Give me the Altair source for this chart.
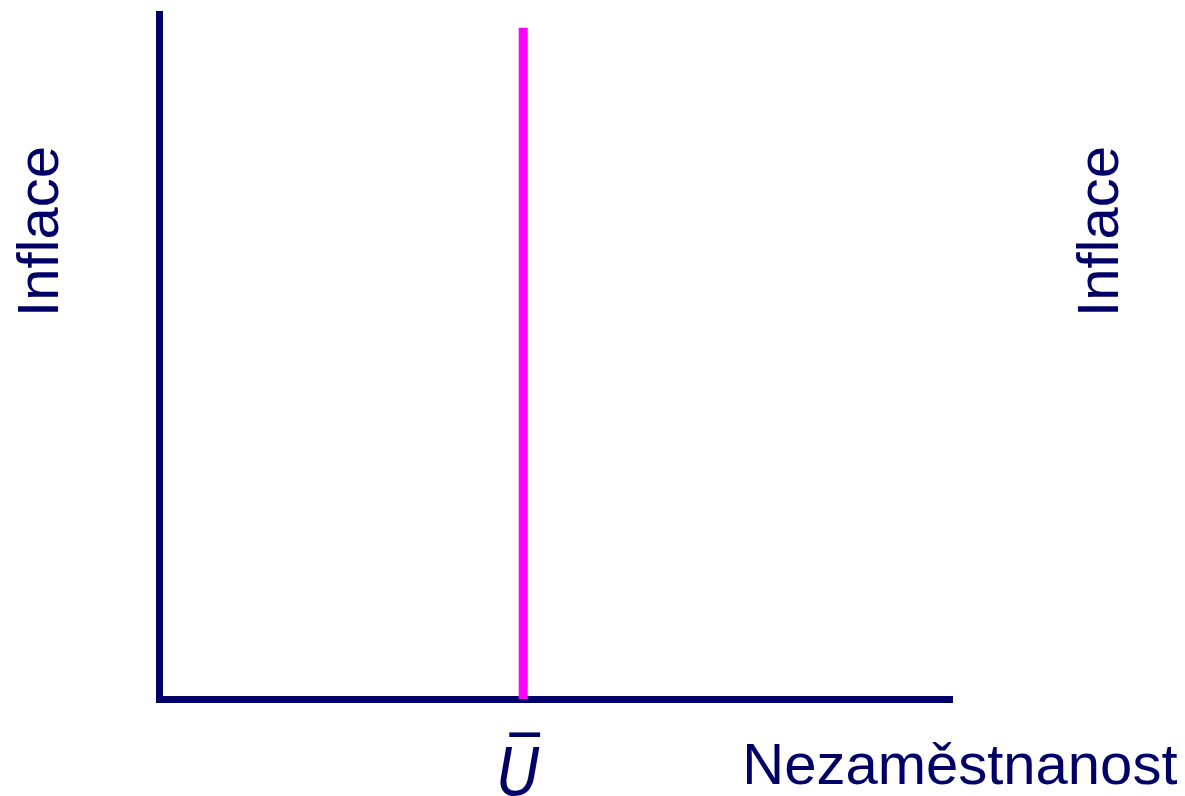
import altair as alt
import pandas as pd

# Data
U_BAR = [46.1]          # natural rate of unemployment (position on x scale)
PEAK = [98.0]           # top of the vertical long-run Phillips curve
X_TITLE = "Nezaměstnanost"
Y_TITLE = "Inflace"
U_LABEL = "U\u0305"

NAVY = "#000066"
MAGENTA = "#FF00FF"
FONT = "Liberation Sans"

df = pd.DataFrame({"u": U_BAR, "top": PEAK, "bottom": [0.0]})

xscale = alt.Scale(domain=[0, 100], nice=False, zero=True)
yscale = alt.Scale(domain=[0, 100], nice=False, zero=True)

x_axis = alt.Axis(
    values=U_BAR,
    labelExpr=f"'{U_LABEL}'",
    labelFont="'DejaVu Sans Condensed', 'DejaVu Sans', sans-serif",
    labelFontStyle="italic",
    labelFontSize=66,
    labelColor=NAVY,
    labelBaseline="alphabetic",
    labelPadding=95,
    labelOffset=-5,
    ticks=False,
    tickSize=0,
    grid=False,
    domain=True,
    domainColor=NAVY,
    domainWidth=7,
    domainCap="square",
    title=X_TITLE,
    titleFont=FONT,
    titleFontSize=58,
    titleFontWeight="normal",
    titleColor=NAVY,
    titleAlign="right",
    titleBaseline="alphabetic",
    titleX=1018,
    titleY=84,
)

y_left = alt.Axis(
    labels=False,
    ticks=False,
    tickSize=0,
    grid=False,
    domain=True,
    domainColor=NAVY,
    domainWidth=7,
    domainCap="square",
    title=Y_TITLE,
    titleFont=FONT,
    titleFontSize=58,
    titleFontWeight="normal",
    titleColor=NAVY,
    titleAngle=270,
    titleAlign="center",
    titleBaseline="alphabetic",
    titleX=-102,
    titleY=217,
)

y_right = alt.Axis(
    orient="right",
    labels=False,
    ticks=False,
    tickSize=0,
    grid=False,
    domain=False,
    title=Y_TITLE,
    titleFont=FONT,
    titleFontSize=58,
    titleFontWeight="normal",
    titleColor=NAVY,
    titleAngle=270,
    titleAlign="center",
    titleBaseline="alphabetic",
    titleX=168,
    titleY=217,
)

lrpc = alt.Chart(df).mark_rule(color=MAGENTA, strokeWidth=9).encode(
    x=alt.X("u:Q", scale=xscale, axis=x_axis),
    y=alt.Y("bottom:Q", scale=yscale, axis=y_left),
    y2="top:Q",
)

ghost = alt.Chart(df).mark_rule(opacity=0).encode(
    x=alt.X("u:Q", scale=xscale),
    y=alt.Y("bottom:Q", scale=yscale, axis=y_right),
    y2="top:Q",
)

chart = (
    alt.layer(ghost, lrpc)
    .resolve_scale(y="independent")
    .properties(
        width=790,
        height=685,
        autosize=alt.AutoSizeParams(type="none"),
        padding={"left": 151, "top": 6, "right": 228, "bottom": 97},
        background="white",
    )
    .configure_view(stroke=None)
)

chart.save("out.html", embed_options={"renderer": "svg", "actions": False})
